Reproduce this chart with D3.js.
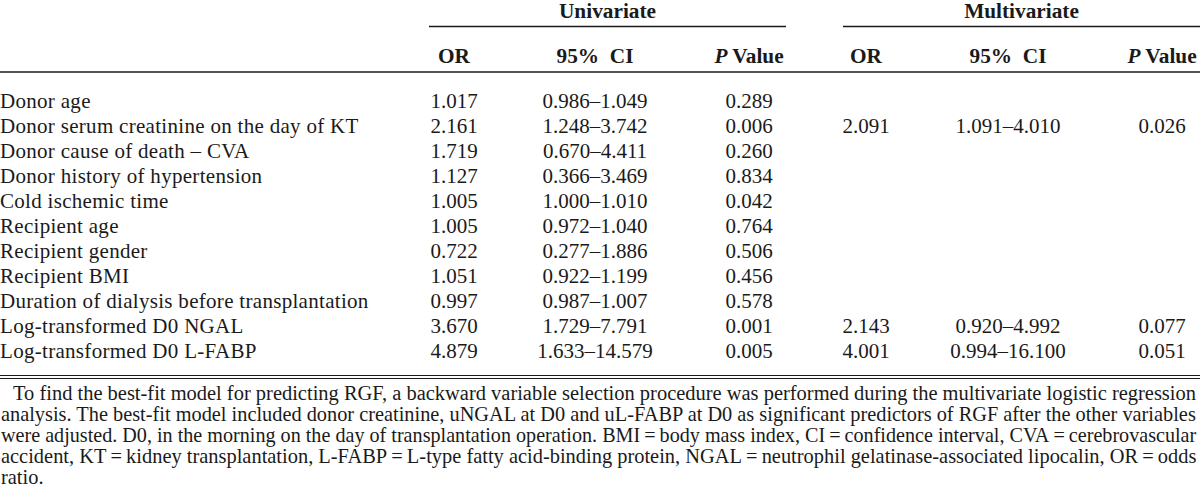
<!DOCTYPE html>
<html>
<head>
<meta charset="utf-8">
<script src="https://cdn.jsdelivr.net/npm/d3@7"></script>
<style>
  html, body { margin: 0; padding: 0; background: #fff; }
  svg { display: block; }
</style>
</head>
<body>
<div id="chart"></div>
<script>
// ---- data ----
const variables = [
  "Donor age",
  "Donor serum creatinine on the day of KT",
  "Donor cause of death \u2013 CVA",
  "Donor history of hypertension",
  "Cold ischemic time",
  "Recipient age",
  "Recipient gender",
  "Recipient BMI",
  "Duration of dialysis before transplantation",
  "Log-transformed D0 NGAL",
  "Log-transformed D0 L-FABP"
];
const uniOR    = [1.017, 2.161, 1.719, 1.127, 1.005, 1.005, 0.722, 1.051, 0.997, 3.670, 4.879];
const uniLow   = [0.986, 1.248, 0.670, 0.366, 1.000, 0.972, 0.277, 0.922, 0.987, 1.729, 1.633];
const uniHigh  = [1.049, 3.742, 4.411, 3.469, 1.010, 1.040, 1.886, 1.199, 1.007, 7.791, 14.579];
const uniP     = [0.289, 0.006, 0.260, 0.834, 0.042, 0.764, 0.506, 0.456, 0.578, 0.001, 0.005];
const multiOR  = [null, 2.091, null, null, null, null, null, null, null, 2.143, 4.001];
const multiLow = [null, 1.091, null, null, null, null, null, null, null, 0.920, 0.994];
const multiHigh= [null, 4.010, null, null, null, null, null, null, null, 4.992, 16.100];
const multiP   = [null, 0.026, null, null, null, null, null, null, null, 0.077, 0.051];
const groups = ["Univariate", "Multivariate"];
const columnKeys = ["uniOR", "uniCI", "uniP", "multiOR", "multiCI", "multiP"];
const footnoteLines = [
  "To find the best-fit model for predicting RGF, a backward variable selection procedure was performed during the multivariate logistic regression",
  "analysis. The best-fit model included donor creatinine, uNGAL at D0 and uL-FABP at D0 as significant predictors of RGF after the other variables",
  "were adjusted. D0, in the morning on the day of transplantation operation. BMI\u2009=\u2009body mass index, CI\u2009=\u2009confidence interval, CVA\u2009=\u2009cerebrovascular",
  "accident, KT\u2009=\u2009kidney transplantation, L-FABP\u2009=\u2009L-type fatty acid-binding protein, NGAL\u2009=\u2009neutrophil gelatinase-associated lipocalin, OR\u2009=\u2009odds",
  "ratio."
];

// ---- layout ----
const W = 1200, H = 497;
const FONT = "'Liberation Serif', 'Times New Roman', Times, serif";
const INK = "#1a1a1a";
const fmt = d3.format(".3f");
const BODY = 21, HEAD = 21.3, NOTE = 20.5;

const svg = d3.select("#chart").append("svg")
  .attr("width", W).attr("height", H)
  .style("font-family", FONT);

// column centers
const colX = d3.scaleOrdinal()
  .domain(columnKeys)
  .range([454, 595, 749, 866, 1008, 1162]);

// group spans
const groupSpan = d3.scaleOrdinal()
  .domain(groups)
  .range([[429, 786], [843, 1200]]);

// rows
const rowY = d3.scaleBand()
  .domain(variables)
  .range([88.5, 88.5 + 25 * variables.length])
  .padding(0);

// ---- group headers ----
const g0 = svg.append("g");
groups.forEach(gname => {
  const [a, b] = groupSpan(gname);
  g0.append("text")
    .attr("x", (a + b) / 2).attr("y", 18)
    .attr("text-anchor", "middle")
    .attr("font-size", HEAD).attr("font-weight", "bold").attr("fill", INK)
    .text(gname);
  g0.append("line")
    .attr("x1", a).attr("x2", b).attr("y1", 26.5).attr("y2", 26.5)
    .attr("stroke", INK).attr("stroke-width", 1.3);
});

// ---- column headers ----
const headerLabels = {
  uniOR: "OR", uniCI: "95%\u2002CI", uniP: "P",
  multiOR: "OR", multiCI: "95%\u2002CI", multiP: "P"
};
columnKeys.forEach(k => {
  const t = g0.append("text")
    .attr("x", colX(k)).attr("y", 63)
    .attr("text-anchor", "middle")
    .attr("font-size", HEAD).attr("font-weight", "bold").attr("fill", INK);
  if (k.endsWith("P")) {
    t.append("tspan").attr("font-style", "italic").text("P");
    t.append("tspan").text(" Value");
  } else {
    t.text(headerLabels[k]);
  }
});

// rules
svg.append("line").attr("x1", 0).attr("x2", W).attr("y1", 72).attr("y2", 72)
  .attr("stroke", INK).attr("stroke-width", 1.3);
svg.append("line").attr("x1", 0).attr("x2", W).attr("y1", 375.5).attr("y2", 375.5)
  .attr("stroke", INK).attr("stroke-width", 1.1);
svg.append("line").attr("x1", 0).attr("x2", W).attr("y1", 378.5).attr("y2", 378.5)
  .attr("stroke", INK).attr("stroke-width", 1.1);

// ---- body rows ----
const rows = variables.map((v, i) => ({
  v,
  uniOR: fmt(uniOR[i]),
  uniCI: fmt(uniLow[i]) + "\u2013" + fmt(uniHigh[i]),
  uniP: fmt(uniP[i]),
  multiOR: multiOR[i] == null ? "" : fmt(multiOR[i]),
  multiCI: multiLow[i] == null ? "" : fmt(multiLow[i]) + "\u2013" + fmt(multiHigh[i]),
  multiP: multiP[i] == null ? "" : fmt(multiP[i])
}));

const rowG = svg.append("g").selectAll("g.row").data(rows).join("g")
  .attr("class", "row")
  .attr("transform", d => `translate(0,${rowY(d.v) + rowY.bandwidth() / 2 + 7})`);

rowG.append("text")
  .attr("x", 0).attr("y", 0)
  .attr("font-size", BODY).attr("fill", INK)
  .attr("letter-spacing", 0.3)
  .text(d => d.v);

columnKeys.forEach(k => {
  rowG.append("text")
    .attr("x", colX(k)).attr("y", 0)
    .attr("text-anchor", "middle")
    .attr("font-size", BODY).attr("fill", INK)
    .text(d => d[k]);
});

// ---- footnote (condensed, justified via horizontal scaling) ----
const indent = 13;
const rightEdge = W - 3;
const fnBase = d3.scaleLinear().domain([0, 4]).range([400, 484]);
const fn = svg.append("g");
let ratio = 0.8;
footnoteLines.forEach((line, i) => {
  const x0 = i === 0 ? indent : 1;
  const g = fn.append("g");
  const t = g.append("text")
    .attr("x", 0).attr("y", 0)
    .attr("font-size", NOTE).attr("fill", INK)
    .text(line);
  const nat = t.node().getComputedTextLength();
  if (i < footnoteLines.length - 1) ratio = (rightEdge - x0) / nat;
  g.attr("transform", `translate(${x0},${fnBase(i)}) scale(${ratio},1)`);
});
</script>
</body>
</html>
